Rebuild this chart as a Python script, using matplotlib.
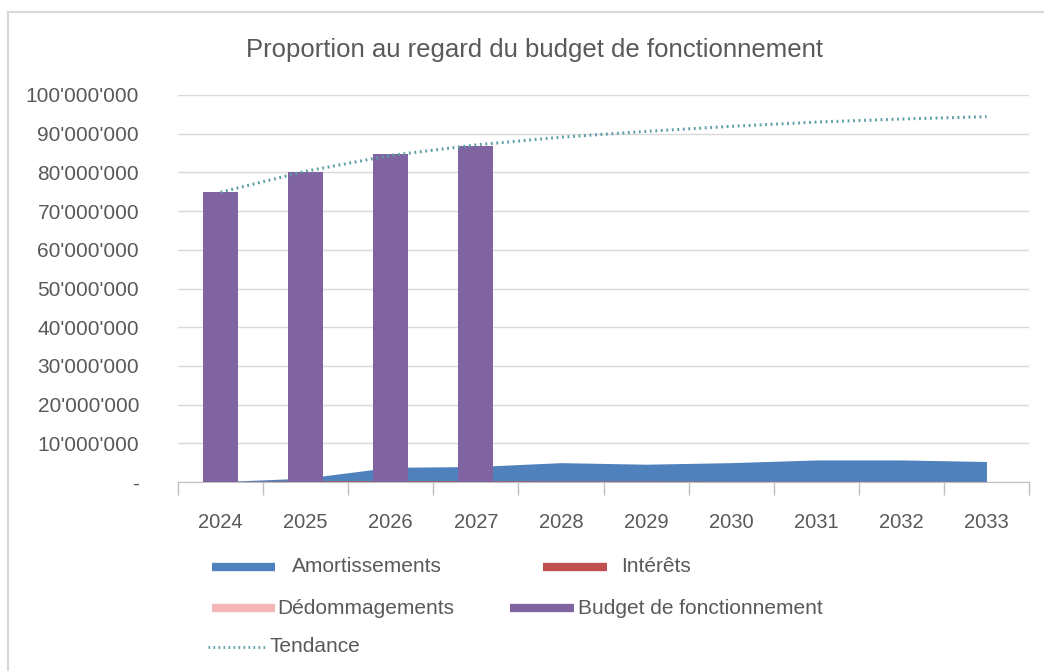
import numpy as np
import matplotlib.pyplot as plt
from matplotlib.lines import Line2D

plt.rcParams['font.family'] = ['Liberation Sans', 'DejaVu Sans']

# valeurs (CHF)
annees = ["2024", "2025", "2026", "2027", "2028", "2029", "2030", "2031", "2032", "2033"]
amortissements = [0.1e6, 1.0e6, 3.8e6, 4.0e6, 5.0e6, 4.6e6, 5.0e6, 5.7e6, 5.7e6, 5.3e6]
interets = [0.1e6, 0.3e6, 0.3e6, 0.3e6, 0.25e6, 0.25e6, 0.2e6, 0.2e6, 0.2e6, 0.15e6]
dedommagements = [0, 0, 0, 0, 0, 0, 0, 0, 0, 0]
budget = [74.9e6, 80.0e6, 84.7e6, 86.8e6]
tendance = [74.9e6, 80.3e6, 84.4e6, 87.1e6, 89.1e6, 90.6e6, 91.9e6, 93.0e6, 93.8e6, 94.4e6]

c_amort = "#4F81BD"
c_int = "#C0504D"
c_dedo = "#F4B6B6"
c_budget = "#8064A2"
c_tend = "#5C9EA6"
c_txt = "#595959"

W, H = 1044, 671
fig = plt.figure(figsize=(W / 100, H / 100), dpi=100)

# cadre du graphique
fig.add_artist(Line2D([8 / W, 1], [1 - 12 / H, 1 - 12 / H], color="#D9D9D9", lw=1.5))
fig.add_artist(Line2D([8 / W, 8 / W], [0, 1 - 12 / H], color="#D9D9D9", lw=1.5))

ax = fig.add_axes([178 / W, 1 - 482 / H, 851 / W, 387 / H])
x = np.arange(len(annees))

ax.fill_between(x, 0, amortissements, color=c_amort, lw=0, zorder=2)
ax.fill_between(x, 0, interets, color=c_int, lw=0, zorder=2)
ax.fill_between(x, 0, dedommagements, color=c_dedo, lw=0, zorder=2)
ax.bar(x[:len(budget)], budget, width=0.41, color=c_budget, zorder=3)
ax.plot(x, tendance, color=c_tend, lw=2.2, ls=(0, (0.6, 1.2)), zorder=4)

ax.set_xlim(-0.5, len(annees) - 0.5)
ax.set_ylim(0, 100e6)
yt = np.arange(0, 100e6 + 1, 10e6)
ax.set_yticks(yt, labels=["-"] + [f"{int(v / 1e6)}'000'000" for v in yt[1:]])
ax.yaxis.grid(True, color="#D9D9D9", lw=1)
ax.set_axisbelow(True)

ax.set_xticks(np.arange(-0.5, len(annees)))
ax.set_xticklabels([])
ax.set_xticks(x, labels=annees, minor=True)
ax.tick_params(axis="x", which="major", length=9, color="#BFBFBF", width=1)
ax.tick_params(axis="x", which="minor", length=0, pad=22, labelsize=14.5, labelcolor=c_txt)
ax.tick_params(axis="y", length=0, pad=28, labelsize=15, labelcolor=c_txt)

for s in ["top", "right", "left"]:
    ax.spines[s].set_visible(False)
ax.spines["bottom"].set_color("#BFBFBF")

fig.text(535 / W, 1 - 50 / H, "Proportion au regard du budget de fonctionnement",
         ha="center", va="center", fontsize=18.5, color=c_txt)

# légende
def entree(x0, x1, y, txt, tx, couleur, style="-", lw=6):
    fig.add_artist(Line2D([x0 / W, x1 / W], [1 - y / H, 1 - y / H], color=couleur,
                          lw=lw, ls=style, solid_capstyle="butt"))
    fig.text(tx / W, 1 - y / H, txt, ha="left", va="center", fontsize=15, color=c_txt)

entree(212, 275, 567, "Amortissements", 292, c_amort)
entree(543, 607, 567, "Intérêts", 621, c_int)
entree(212, 275, 608, "Dédommagements", 277, c_dedo)
entree(510, 574, 608, "Budget de fonctionnement", 578, c_budget)
entree(208, 268, 647, "Tendance", 270, c_tend, style=(0, (0.6, 1.2)), lw=2)

fig.savefig("out.png", dpi=100)
